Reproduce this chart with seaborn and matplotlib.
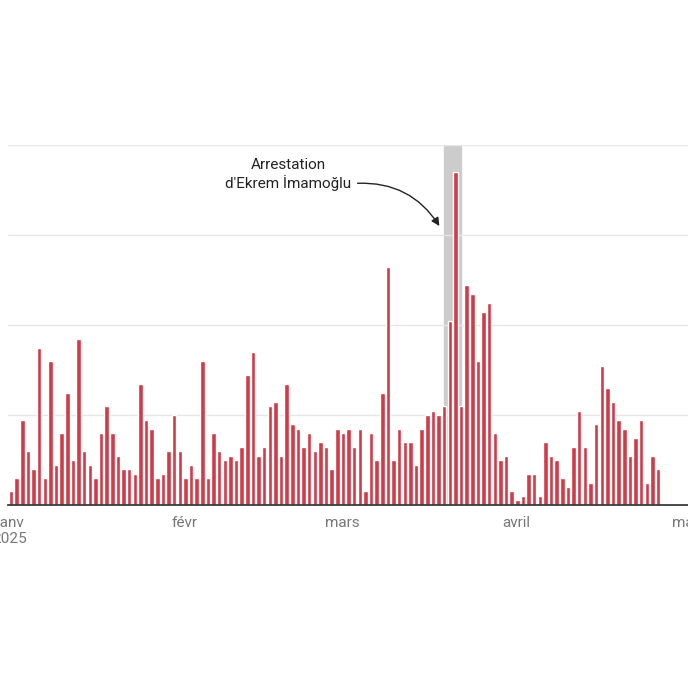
import matplotlib

matplotlib.use("Agg")
import matplotlib.dates as mdates
import matplotlib.pyplot as plt
import numpy as np
import pandas as pd
import seaborn as sns

sns.set_theme(style="white")
plt.rcParams["font.family"] = ["Roboto", "DejaVu Sans"]

jan = [3, 6, 19, 12, 8, 35, 6, 32, 9, 16, 25, 10, 37, 12, 9, 6, 16, 22, 16, 11,
       8, 8, 7, 27, 19, 17, 6, 7, 12, 20, 12]
feb = [6, 9, 6, 32, 6, 16, 12, 10, 11, 10, 13, 29, 34, 11, 13, 22, 23, 11, 27,
       18, 17, 13, 16, 12, 14, 13, 8, 17]
mar = [16, 17, 13, 17, 3, 16, 10, 25, 53, 10, 17, 14, 14, 9, 17, 20, 21, 20, 22,
       41, 74, 22, 49, 47, 32, 43, 45, 16, 10, 11, 3]
apr = [1, 2, 7, 7, 2, 14, 11, 10, 6, 4, 13, 21, 13, 5, 18, 31, 26, 23, 19, 17,
       11, 15, 19, 5, 11, 8]
values = jan + feb + mar + apr
dates = pd.date_range("2025-01-01", periods=len(values), freq="D")
df = pd.DataFrame({"date": dates, "count": values})

tick_dates = pd.to_datetime(["2025-01-01", "2025-02-01", "2025-03-01", "2025-04-01", "2025-05-01"])
tick_labels = ["janv\n2025", "févr", "mars", "avril", "mai"]

fig = plt.figure(figsize=(6.88, 6.88), dpi=100)
ax = fig.add_axes([0.012, 0.266, 0.988, 0.523])

x0 = mdates.date2num(pd.Timestamp("2025-01-01"))
x1 = mdates.date2num(pd.Timestamp("2025-05-01"))
ax.set_xlim(x0 - 0.3, x0 + (688 - 8) / 677 * (x1 - x0))
ax.set_ylim(0, 80)

ax.axvspan(mdates.date2num(pd.Timestamp("2025-03-19")) + 0.15,
           mdates.date2num(pd.Timestamp("2025-03-22")) + 0.25,
           color="#cccccc", zorder=0)
ax.bar(mdates.date2num(df["date"]) + 0.2, df["count"], width=0.8,
       color="#d13b47", zorder=2)

for y in [20, 40, 60, 80]:
    ax.axhline(y, color="#e6e6e6", lw=1, zorder=1)
for s in ["top", "right", "left"]:
    ax.spines[s].set_visible(False)
ax.spines["bottom"].set_color("#333333")
ax.set_yticks([])
ax.set_xticks(mdates.date2num(tick_dates))
ax.set_xticklabels(tick_labels, color="#777777", fontsize=11)
ax.tick_params(axis="x", length=0, pad=8)

ax.text(mdates.date2num(pd.Timestamp("2025-02-19")) + 0.5, 73.5,
        "Arrestation\nd'Ekrem İmamoğlu", ha="center", va="center",
        fontsize=11, color="#222222")
ax.annotate("",
            xy=(mdates.date2num(pd.Timestamp("2025-03-18")) + 0.6, 61.5),
            xytext=(mdates.date2num(pd.Timestamp("2025-03-03")) + 0.3, 71.5),
            arrowprops=dict(arrowstyle="-|>", color="#222222", lw=1,
                            connectionstyle="arc3,rad=-0.3"))

fig.savefig("out.png", dpi=100)
